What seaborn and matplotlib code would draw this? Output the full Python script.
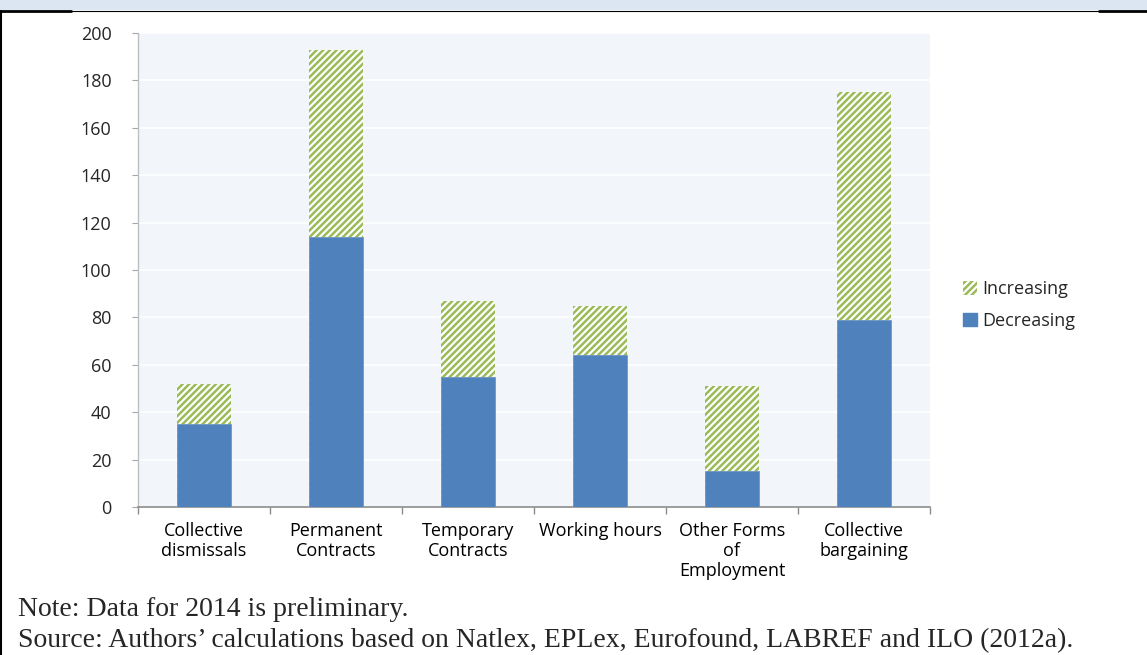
import numpy as np
import pandas as pd
import matplotlib
matplotlib.use("Agg")
import matplotlib.pyplot as plt
from matplotlib.patches import Patch, Rectangle
from matplotlib.lines import Line2D
import seaborn as sns

categories = [
    "Collective\ndismissals",
    "Permanent\nContracts",
    "Temporary\nContracts",
    "Working hours",
    "Other Forms\nof\nEmployment",
    "Collective\nbargaining",
]
decreasing = [35, 114, 55, 64, 15, 79]
increasing = [17, 79, 32, 21, 36, 96]
y_ticks = [0, 20, 40, 60, 80, 100, 120, 140, 160, 180, 200]

blue = "#4F81BD"
green = "#9BBB59"

sns.set_theme(style="white")
plt.rcParams["font.family"] = ["Open Sans", "DejaVu Sans"]
plt.rcParams["hatch.linewidth"] = 1.8

df = pd.DataFrame({
    "category": categories,
    "Decreasing": decreasing,
    "Increasing": increasing,
})
df["total"] = df["Decreasing"] + df["Increasing"]

fig = plt.figure(figsize=(11.47, 6.55), dpi=100)
ax = fig.add_axes([138 / 1147, 1 - 507 / 655, (930 - 138) / 1147, (507 - 33) / 655])
ax.set_facecolor("#F2F6FA")

# stacked bars: full height hatched, decreasing part drawn on top
sns.barplot(data=df, x="category", y="total", ax=ax, color="white",
            saturation=1, width=0.41, edgecolor=green, linewidth=0,
            hatch="/////", zorder=2)
sns.barplot(data=df, x="category", y="Decreasing", ax=ax, color=blue,
            saturation=1, width=0.41, edgecolor="#6F97C9", linewidth=0.6,
            zorder=3)

ax.set_ylim(0, 200)
ax.set_xlim(-0.5, len(categories) - 0.5)
ax.set_yticks(y_ticks)
ax.set_yticklabels([str(v) for v in y_ticks])
ax.yaxis.grid(True, color="white", linewidth=1.2, zorder=0)
ax.set_axisbelow(True)
ax.set_xlabel("")
ax.set_ylabel("")

ax.set_xticks(range(len(categories)))
ax.set_xticklabels(categories, linespacing=1.15)
ax.set_xticks(np.arange(-0.5, len(categories)), minor=True)
ax.tick_params(axis="x", which="major", length=0, pad=11, labelsize=13,
               colors="black")
ax.tick_params(axis="x", which="minor", length=5, width=1, color="#8C8C8C",
               direction="out", bottom=True)
ax.tick_params(axis="y", which="major", length=4, width=0.8, color="#A6A6A6",
               left=True, direction="out", pad=15, labelsize=13)

for side in ["top", "right"]:
    ax.spines[side].set_visible(False)
ax.spines["left"].set_color("#BFBFBF")
ax.spines["left"].set_linewidth(1)
ax.spines["bottom"].set_color("#8C8C8C")
ax.spines["bottom"].set_linewidth(1.2)

handles = [
    Patch(facecolor="white", edgecolor=green, hatch="/////", linewidth=0,
          label="Increasing"),
    Patch(facecolor=blue, edgecolor=blue, label="Decreasing"),
]
fig.legend(handles=handles, loc="center left",
           bbox_to_anchor=(947 / 1147, 1 - 305 / 655), frameon=False,
           fontsize=13, handlelength=0.75, handleheight=0.75,
           handletextpad=0.3, labelspacing=0.75)

# header band and frame lines
fig.add_artist(Rectangle((0, 1 - 10 / 655), 1, 10 / 655,
                         transform=fig.transFigure, facecolor="#DCE6F2",
                         edgecolor="none", zorder=0))
fig.add_artist(Line2D([0, 1], [1 - 11 / 655] * 2, transform=fig.transFigure,
                      color="black", linewidth=0.8))
fig.add_artist(Line2D([0, 71 / 1147], [1 - 11 / 655] * 2,
                      transform=fig.transFigure, color="black", linewidth=2))
fig.add_artist(Line2D([1099 / 1147, 1], [1 - 11 / 655] * 2,
                      transform=fig.transFigure, color="black", linewidth=2))
fig.add_artist(Line2D([1 / 1147] * 2, [0, 1 - 11 / 655],
                      transform=fig.transFigure, color="black", linewidth=1.5))

fig.text(18 / 1147, 1 - 609 / 655, "Note: Data for 2014 is preliminary.",
         family=["Liberation Serif"], fontsize=20, va="center", ha="left")
fig.text(18 / 1147, 1 - 641 / 655,
         "Source: Authors\u2019 calculations based on Natlex, EPLex, Eurofound, LABREF and ILO (2012a).",
         family=["Liberation Serif"], fontsize=20, va="center", ha="left")

fig.savefig("out.png", dpi=100, facecolor="white")
